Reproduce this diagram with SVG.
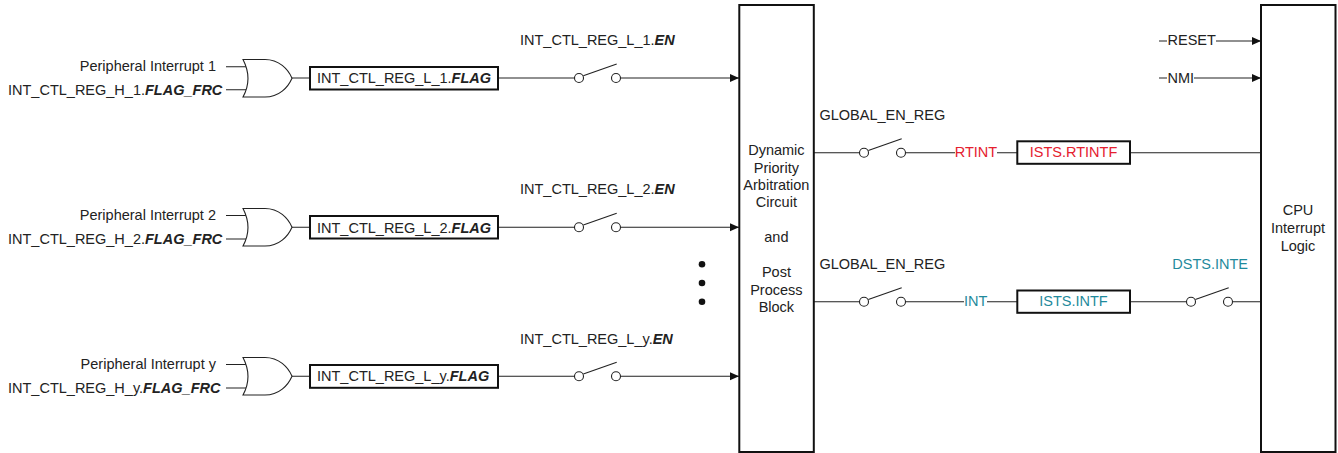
<svg xmlns="http://www.w3.org/2000/svg" xmlns:xlink="http://www.w3.org/1999/xlink" width="1338" height="453" viewBox="0 0 1338 453">
<style>
text{font-family:"Liberation Sans",Arial,sans-serif;font-size:14.5px;fill:#222}
.m{text-anchor:middle}
.e{text-anchor:end}
.b{font-weight:bold;font-style:italic}
.red{fill:#e5202e}
.teal{fill:#1f8a9c}
.box{fill:#fff;stroke:#111;stroke-width:2}
.blk{fill:none;stroke:#111;stroke-width:2}
.w{fill:none;stroke:#222;stroke-width:1.1}
.sw{fill:#fff;stroke:#222;stroke-width:1.1}
.g{fill:#fff;stroke:#222;stroke-width:1.1}
</style>
<defs>
<marker id="ah" markerUnits="userSpaceOnUse" markerWidth="10" markerHeight="10" refX="9" refY="5" orient="auto"><path d="M0,1 L9,5 L0,9 Z" fill="#111"/></marker>
<g id="orgate">
<path class="g" d="M243,59.5 H265 C279,59.5 288,69 292,78.2 C288,87.5 279,97 265,97 H243 C249.500,85 249.500,72 243,59.5 Z"/>
</g>
<g id="switch">
<path class="w" d="M583.300,75.800 L616.700,64"/>
<circle class="sw" cx="579" cy="78" r="4.500"/>
<circle class="sw" cx="616" cy="78" r="4.500"/>
</g>
</defs>
<g id="connectors">
<path class="w" d="M226,66.700 H246 M226,89.800 H246 M292,78 H310 M498,78 H574.500 M620.500,78 H739" marker-end="url(#ah)"/>
<path class="w" d="M226,215.500 H246 M226,239 H246 M292,227.300 H310 M498,227.300 H574.500 M620.500,227.300 H739" marker-end="url(#ah)"/>
<path class="w" d="M226,364.500 H246 M226,388 H246 M292,376.300 H310 M498,376.300 H574.500 M620.500,376.300 H739" marker-end="url(#ah)"/>
<path class="w" d="M814,152.700 H859.500 M905.800,152.700 H955 M997,152.700 H1017 M1130,152.700 H1261"/>
<path class="w" d="M814,301.700 H859.500 M905.800,301.700 H964 M987,301.700 H1017 M1130,301.700 H1186.500 M1232.800,301.700 H1261"/>
<path class="w" d="M1159,41 H1167 M1216,41 H1261" marker-end="url(#ah)"/>
<path class="w" d="M1159,78 H1167 M1194,78 H1261" marker-end="url(#ah)"/>
</g>
<g id="row1">
<use xlink:href="#orgate" href="#orgate"/>
<text class="e" x="216" y="70.500">Peripheral Interrupt 1</text>
<text x="8" y="95">INT_CTL_REG_H_1.<tspan class="b">FLAG_FRC</tspan></text>
<rect class="box" x="310" y="67" width="188" height="22.500"/>
<text x="317" y="83.300">INT_CTL_REG_L_1.<tspan class="b">FLAG</tspan></text>
<text x="520" y="44.500">INT_CTL_REG_L_1.<tspan class="b">EN</tspan></text>
<use xlink:href="#switch" href="#switch"/>
</g>
<g id="row2">
<use xlink:href="#orgate" href="#orgate" y="149"/>
<text class="e" x="216" y="219.500">Peripheral Interrupt 2</text>
<text x="8" y="243.500">INT_CTL_REG_H_2.<tspan class="b">FLAG_FRC</tspan></text>
<rect class="box" x="310" y="216" width="188" height="22.500"/>
<text x="317" y="232.500">INT_CTL_REG_L_2.<tspan class="b">FLAG</tspan></text>
<text x="520" y="193.500">INT_CTL_REG_L_2.<tspan class="b">EN</tspan></text>
<use xlink:href="#switch" href="#switch" y="149.300"/>
</g>
<g id="rowy">
<use xlink:href="#orgate" href="#orgate" y="298"/>
<text class="e" x="216" y="369.300">Peripheral Interrupt y</text>
<text x="8" y="392.800">INT_CTL_REG_H_y.<tspan class="b">FLAG_FRC</tspan></text>
<rect class="box" x="310" y="365" width="188" height="22.800"/>
<text x="317" y="381">INT_CTL_REG_L_y.<tspan class="b">FLAG</tspan></text>
<text x="520" y="343.500">INT_CTL_REG_L_y.<tspan class="b">EN</tspan></text>
<use xlink:href="#switch" href="#switch" y="298.300"/>
</g>
<g id="dots">
<circle cx="702" cy="264.300" r="3.300" fill="#111"/>
<circle cx="702" cy="283" r="3.300" fill="#111"/>
<circle cx="702" cy="301.700" r="3.300" fill="#111"/>
</g>
<g id="arbiter">
<rect class="blk" x="739.300" y="5" width="74.500" height="447"/>
<text class="m" x="776.400" y="155">Dynamic</text>
<text class="m" x="776.400" y="172.500">Priority</text>
<text class="m" x="776.400" y="190">Arbitration</text>
<text class="m" x="776.400" y="207">Circuit</text>
<text class="m" x="776.400" y="242">and</text>
<text class="m" x="776.400" y="277">Post</text>
<text class="m" x="776.400" y="294.500">Process</text>
<text class="m" x="776.400" y="312">Block</text>
</g>
<g id="cpu">
<rect class="blk" x="1261" y="5" width="74.500" height="447"/>
<text class="m" x="1298" y="215">CPU</text>
<text class="m" x="1298" y="233">Interrupt</text>
<text class="m" x="1298" y="250.500">Logic</text>
</g>
<g id="rt-path">
<text x="819.500" y="120">GLOBAL_EN_REG</text>
<use xlink:href="#switch" href="#switch" x="285" y="74.700"/>
<text class="red" x="954.700" y="157">RTINT</text>
<rect class="box" x="1017.300" y="141.300" width="112.700" height="22.500"/>
<text class="red m" x="1073.500" y="157">ISTS.RTINTF</text>
</g>
<g id="int-path">
<text x="819.500" y="269">GLOBAL_EN_REG</text>
<use xlink:href="#switch" href="#switch" x="285" y="223.700"/>
<text class="teal" x="964" y="306">INT</text>
<rect class="box" x="1017.300" y="290.500" width="112.700" height="22.300"/>
<text class="teal m" x="1073.500" y="306">ISTS.INTF</text>
<use xlink:href="#switch" href="#switch" x="612" y="223.700"/>
<text class="teal" x="1172.300" y="269">DSTS.INTE</text>
</g>
<g id="inputs">
<text x="1167.500" y="45">RESET</text>
<text x="1167.500" y="82.500">NMI</text>
</g>
</svg>
